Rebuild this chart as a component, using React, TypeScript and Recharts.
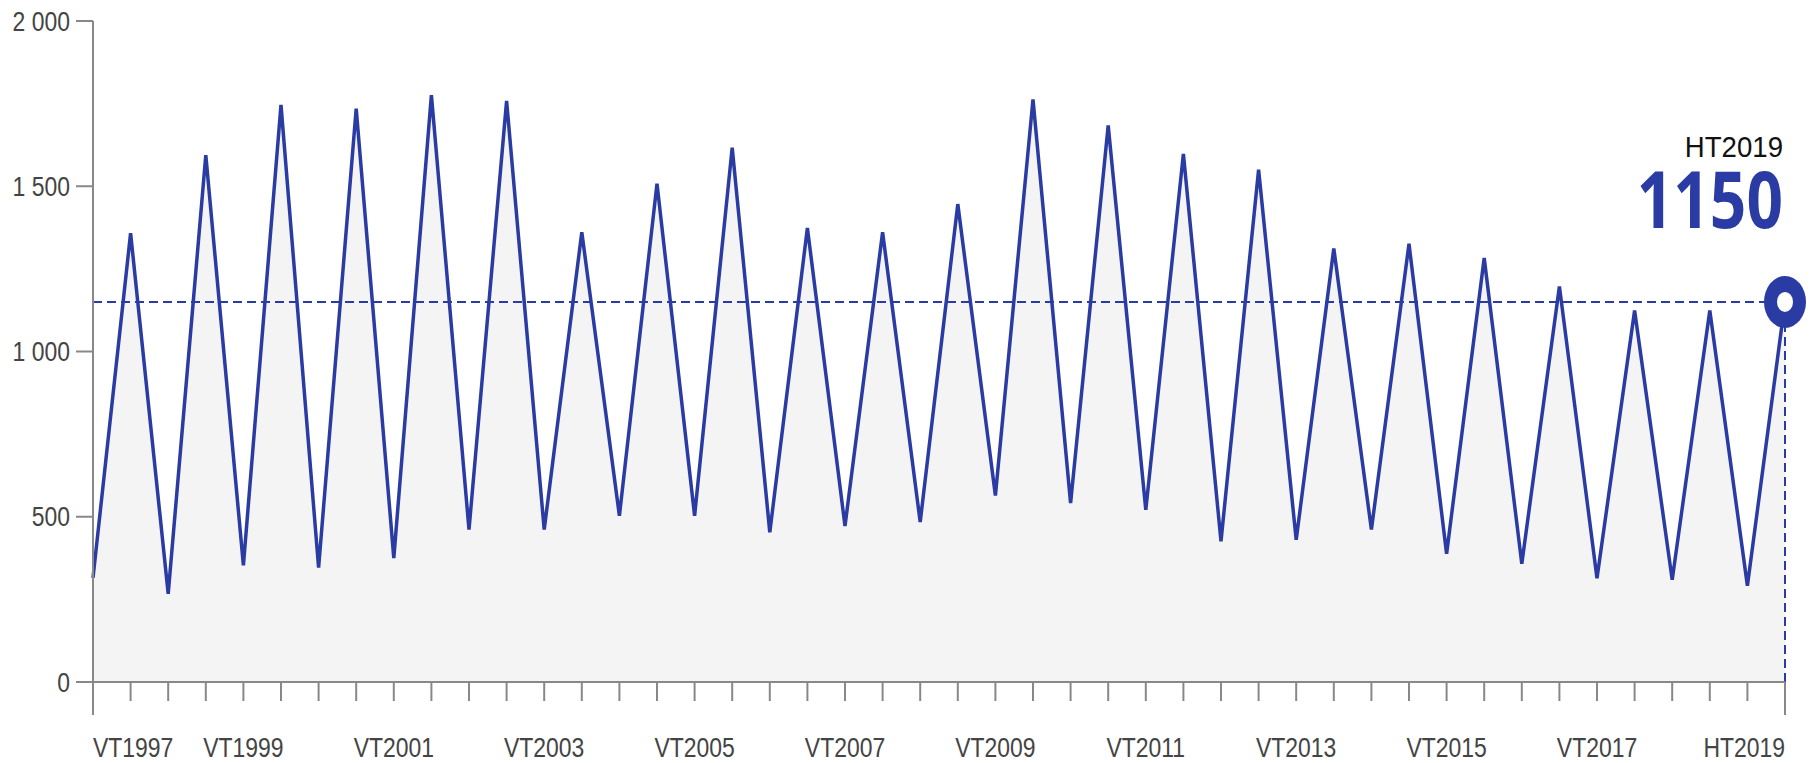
import React from "react";
import { AreaChart, Area, XAxis, YAxis, ReferenceLine } from "recharts";

// terms in order, VT = spring, HT = autumn
const terms = [
  "VT1997", "HT1997", "VT1998", "HT1998", "VT1999", "HT1999", "VT2000", "HT2000",
  "VT2001", "HT2001", "VT2002", "HT2002", "VT2003", "HT2003", "VT2004", "HT2004",
  "VT2005", "HT2005", "VT2006", "HT2006", "VT2007", "HT2007", "VT2008", "HT2008",
  "VT2009", "HT2009", "VT2010", "HT2010", "VT2011", "HT2011", "VT2012", "HT2012",
  "VT2013", "HT2013", "VT2014", "HT2014", "VT2015", "HT2015", "VT2016", "HT2016",
  "VT2017", "HT2017", "VT2018", "HT2018", "VT2019", "HT2019",
];

const applicants = [
  315, 1358, 267, 1594, 353, 1746, 346, 1735,
  375, 1776, 461, 1758, 461, 1361, 503, 1508,
  503, 1617, 453, 1374, 472, 1361, 484, 1446,
  564, 1763, 541, 1684, 521, 1598, 426, 1550,
  430, 1312, 461, 1326, 388, 1283, 358, 1197,
  314, 1124, 309, 1124, 291, 1150,
];

const shownLabels = [
  "VT1997", "VT1999", "VT2001", "VT2003", "VT2005", "VT2007",
  "VT2009", "VT2011", "VT2013", "VT2015", "VT2017", "HT2019",
];

const yTicks = [0, 500, 1000, 1500, 2000];

const BLUE = "#2A3BA3";
const GREY = "#888888";
const TEXT = "#444444";
const FONT = "'Liberation Sans', Arial, sans-serif";
const SQUEEZE = 0.85; // the original lettering is condensed

const data = terms.map((term, i) => ({ term, value: applicants[i] }));
const lastIdx = terms.length - 1;
const lastTerm = terms[lastIdx];
const lastValue = applicants[lastIdx];

function fmt(v: number) {
  if (v < 1000) return String(v);
  return `${Math.floor(v / 1000)} ${String(v % 1000).padStart(3, "0")}`;
}

function XTick(props: any) {
  const { x, y, payload } = props;
  const i = payload.index;
  const long = i === 0 || i === lastIdx;
  const showLabel = shownLabels.includes(payload.value);
  const anchor = i === 0 ? "start" : i === lastIdx ? "end" : "middle";
  return (
    <g>
      <line x1={x} x2={x} y1={y} y2={y + (long ? 33 : 19)} stroke={GREY} strokeWidth={2} />
      {showLabel ? (
        <g transform={`translate(${x},${y + 75}) scale(${SQUEEZE},1)`}>
          <text x={0} y={0} textAnchor={anchor} fill={TEXT} fontSize={27} fontFamily={FONT}>
            {payload.value}
          </text>
        </g>
      ) : null}
    </g>
  );
}

function YTick(props: any) {
  const { x, y, payload } = props;
  return (
    <g transform={`translate(${x},${y}) scale(${SQUEEZE},1)`}>
      <text x={0} y={0} dy="0.36em" textAnchor="end" fill={TEXT} fontSize={27} fontFamily={FONT}>
        {fmt(payload.value)}
      </text>
    </g>
  );
}

function renderDot(props: any) {
  const { cx, cy, index } = props;
  if (index !== lastIdx) return <g key={`dot-${index}`} />;
  return (
    <g key="dot-last">
      <ellipse cx={cx} cy={cy} rx={21} ry={26} fill={BLUE} />
      <ellipse cx={cx} cy={cy} rx={8} ry={10} fill="#FFFFFF" />
      <g transform={`translate(${cx - 2},${cy - 145}) scale(0.92,1)`}>
        <text x={0} y={0} textAnchor="end" fill="#111111" fontSize={30} fontFamily={FONT}>
          {lastTerm}
        </text>
      </g>
      <g transform={`translate(${cx - 2},${cy - 74}) scale(0.82,1)`}>
        <text x={0} y={0} textAnchor="end" fill={BLUE} fontSize={78} fontWeight={700} fontFamily="'Noto Sans', sans-serif">
          {lastValue}
        </text>
      </g>
    </g>
  );
}

export default function App() {
  return (
    <div style={{ position: "absolute", left: 0, top: 0, width: 1816, height: 763, background: "#fff" }}>
      <AreaChart width={1816} height={763} data={data} margin={{ top: 21, right: 31, bottom: 0, left: 0 }}>
        <XAxis
          dataKey="term"
          interval={0}
          height={81}
          tickSize={0}
          tickMargin={0}
          tickLine={false}
          axisLine={{ stroke: GREY, strokeWidth: 2 }}
          tick={<XTick />}
        />
        <YAxis
          domain={[0, 2000]}
          ticks={yTicks}
          width={93}
          tickSize={17}
          tickMargin={6}
          axisLine={{ stroke: GREY, strokeWidth: 2 }}
          tickLine={{ stroke: GREY, strokeWidth: 2 }}
          tick={<YTick />}
        />
        <Area
          type="linear"
          dataKey="value"
          stroke={BLUE}
          strokeWidth={3.5}
          fill="#F4F4F4"
          fillOpacity={1}
          dot={renderDot}
          activeDot={false}
          isAnimationActive={false}
        />
        <ReferenceLine
          segment={[{ x: terms[0], y: lastValue }, { x: lastTerm, y: lastValue }]}
          stroke={BLUE}
          strokeWidth={2}
          strokeDasharray="9 5"
        />
        <ReferenceLine
          segment={[{ x: lastTerm, y: 0 }, { x: lastTerm, y: lastValue }]}
          stroke={BLUE}
          strokeWidth={2}
          strokeDasharray="9 5"
        />
      </AreaChart>
    </div>
  );
}
